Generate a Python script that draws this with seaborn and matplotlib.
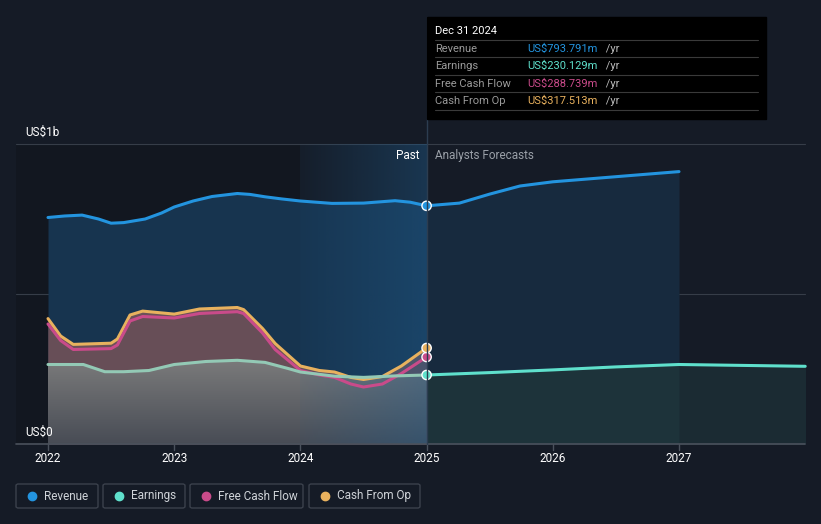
import numpy as np
import pandas as pd
import matplotlib.pyplot as plt
import seaborn as sns
from matplotlib.patches import Rectangle, FancyBboxPatch
from matplotlib.lines import Line2D

# values in US$m, x in decimal years
rev_hist_x = [2022.0, 2022.13, 2022.27, 2022.4, 2022.5, 2022.6, 2022.77, 2022.9, 2023.0, 2023.15,
              2023.3, 2023.5, 2023.6, 2023.72, 2023.85, 2024.0, 2024.25, 2024.5, 2024.75, 2024.87, 2025.0]
rev_hist_y = [755, 760, 763, 750, 736, 738, 750, 770, 790, 810,
              825, 835, 832, 824, 817, 810, 802, 803, 811, 806, 794]
rev_fc_x = [2025.0, 2025.26, 2025.5, 2025.74, 2026.0, 2026.5, 2027.0]
rev_fc_y = [794, 803, 833, 860, 874, 891, 908]

earn_hist_x = [2022.0, 2022.28, 2022.45, 2022.6, 2022.8, 2023.0, 2023.25, 2023.5, 2023.72, 2023.9,
               2024.0, 2024.27, 2024.5, 2024.75, 2025.0]
earn_hist_y = [265, 265, 241, 241, 245, 265, 275, 279, 272, 252, 240, 226, 222, 227, 230]
earn_fc_x = [2025.0, 2025.5, 2026.0, 2026.5, 2027.0, 2027.5, 2028.0]
earn_fc_y = [230, 238, 247, 257, 265, 262, 259]

fcf_x = [2022.0, 2022.1, 2022.2, 2022.5, 2022.55, 2022.65, 2022.75, 2023.0, 2023.2, 2023.5, 2023.55,
         2023.7, 2023.8, 2024.0, 2024.15, 2024.27, 2024.4, 2024.5, 2024.65, 2024.8, 2025.0]
fcf_y = [400, 345, 315, 318, 330, 410, 425, 420, 435, 441, 435,
         370, 315, 245, 230, 222, 200, 190, 200, 235, 290]
cfo_x = fcf_x
cfo_y = [418, 360, 332, 336, 350, 430, 443, 433, 450, 455, 448,
         385, 335, 260, 245, 240, 222, 215, 225, 260, 320]

years = [2022, 2023, 2024, 2025, 2026, 2027]
series_names = ["Revenue", "Earnings", "Free Cash Flow", "Cash From Op"]
tooltip_vals = ["US$793.791m", "US$230.129m", "US$288.739m", "US$317.513m"]

C_REV = "#2394df"
C_EARN = "#5fe0cc"
C_EARN_H = "#93c9b5"
C_FCF = "#c94b8a"
C_CFO = "#e8b15e"
colors = [C_REV, C_EARN, C_FCF, C_CFO]
BG = "#151b26"

sns.set_theme(style="dark")
plt.rcParams["font.family"] = ["Roboto", "DejaVu Sans"]

W, H = 821, 524
fig = plt.figure(figsize=(W / 100, H / 100), dpi=100, facecolor=BG)
ax = fig.add_axes([0, 0, 1, 1])
ax.set_facecolor(BG)

PXY = 126.2  # px per year
x0 = 2022 - 48 / PXY
x1 = 2022 + (W - 48) / PXY
ax.set_xlim(x0, x1)
ax.set_ylim(-(H - 444) / 0.3, 444 / 0.3)
ax.axis("off")


def xpx(p):
    return x0 + p / PXY


def fx(p):
    return p / W


def fy(p):
    return 1 - p / H


# darker region before 2024
ax.add_patch(Rectangle((xpx(16), 0), 2024 - xpx(16), 1000, color="#0f131a", alpha=0.45, lw=0, zorder=0))

# revenue fills
ax.fill_between(rev_hist_x, rev_hist_y, 0, color="#17344f", lw=0, zorder=1)
ax.fill_between(rev_fc_x, rev_fc_y, 0, color="#172a3e", lw=0, zorder=1)

# cash flow fills
ax.fill_between(cfo_x, cfo_y, 0, color="#6b5158", lw=0, zorder=2)
ax.fill_between(fcf_x, fcf_y, 0, color="#674e57", lw=0, zorder=2)

# earnings fills (gradient for history)
poly = ax.fill_between(earn_hist_x, earn_hist_y, 0, facecolor="none", lw=0, zorder=3)
grad = np.linspace(0, 1, 256).reshape(-1, 1)
top = np.array([0x7c, 0x7c, 0x7c]) / 255
bot = np.array([0x48, 0x4c, 0x55]) / 255
img = (top * (1 - grad) + bot * grad).reshape(256, 1, 3)
im = ax.imshow(img, extent=[2022, 2025, 0, 290], aspect="auto", zorder=3, origin="upper")
im.set_clip_path(poly.get_paths()[0], transform=ax.transData)
ax.fill_between(earn_fc_x, earn_fc_y, 0, color="#1d333a", lw=0, zorder=3)
ax.fill_between([2027, 2028], [265, 259], 0, color="#1b2b33", lw=0, zorder=3)

# past highlight band
ramp = np.linspace(0.05, 0.42, 128)
band = np.zeros((1, 128, 4))
band[..., 0] = 0x1f / 255
band[..., 1] = 0x5c / 255
band[..., 2] = 0x8c / 255
band[..., 3] = ramp
ax.imshow(band, extent=[2024, 2025, 0, 1000], aspect="auto", zorder=4)

# grid and baseline
for v in [500, 1000]:
    ax.plot([xpx(16), xpx(805)], [v, v], color="#363d48", lw=0.8, zorder=0.5)
ax.plot([xpx(16), xpx(805)], [0, 0], color="#4a515c", lw=1.2, zorder=6)
for yr in years:
    ax.plot([yr, yr], [0, -20], color="#4a515c", lw=1, zorder=6)
    ax.text(yr, -47, str(yr), color="white", fontsize=8.5, ha="center", va="center")

# lines
sns.lineplot(x=rev_hist_x, y=rev_hist_y, color=C_REV, lw=2.2, ax=ax, zorder=7)
sns.lineplot(x=rev_fc_x, y=rev_fc_y, color=C_REV, lw=2.2, ax=ax, zorder=7)
sns.lineplot(x=cfo_x, y=cfo_y, color=C_CFO, lw=2.2, ax=ax, zorder=7)
sns.lineplot(x=fcf_x, y=fcf_y, color=C_FCF, lw=2.2, ax=ax, zorder=7)
sns.lineplot(x=earn_hist_x, y=earn_hist_y, color=C_EARN_H, lw=2.2, ax=ax, zorder=7)
sns.lineplot(x=earn_fc_x, y=earn_fc_y, color=C_EARN, lw=2.2, ax=ax, zorder=7)

# end-of-history markers
ax.scatter([2025] * 4, [rev_hist_y[-1], earn_hist_y[-1], fcf_y[-1], cfo_y[-1]],
           c=[C_REV, C_EARN, C_FCF, C_CFO], s=45, edgecolors="white", linewidths=1, zorder=9)

# vertical marker line
fig.add_artist(Line2D([fx(427), fx(427)], [fy(17), fy(444)], color="#2c3d50", lw=1, zorder=5))

# axis texts
fig.text(fx(25), fy(132), "US$1b", color="white", fontsize=8.5, va="center")
fig.text(fx(25), fy(432), "US$0", color="white", fontsize=8.5, va="center")
fig.text(fx(419), fy(156), "Past", color="white", fontsize=8.5, ha="right", va="center")
fig.text(fx(435), fy(156), "Analysts Forecasts", color="#9aa0a8", fontsize=8.5, va="center")

# tooltip
fig.add_artist(Rectangle((fx(427), fy(119)), fx(766) - fx(427), fy(17) - fy(119),
                         transform=fig.transFigure, color="black", zorder=10))
fig.text(fx(435), fy(31), "Dec 31 2024", color="white", fontsize=8, va="center", zorder=11)
row_y = [49, 66, 84, 101]
for i, name in enumerate(series_names):
    fig.add_artist(Line2D([fx(435), fx(758)], [fy(row_y[i] - 9), fy(row_y[i] - 9)],
                          color="#3a3a3a", lw=0.8, zorder=11))
    fig.text(fx(435), fy(row_y[i]), name, color="#9a9a9a", fontsize=8, va="center", zorder=11)
    fig.text(fx(527), fy(row_y[i]), tooltip_vals[i], color=colors[i], fontsize=8,
             va="center", zorder=11)
    fig.text(fx(527 + 7.3 * len(tooltip_vals[i]) - 4), fy(row_y[i]), " /yr", color="#bbbbbb",
             fontsize=8, va="center", zorder=11)
fig.add_artist(Line2D([fx(435), fx(758)], [fy(110), fy(110)], color="#3a3a3a", lw=0.8, zorder=11))

# legend boxes
boxes = [(16, 98), (103, 185), (190, 303), (309, 420)]
for (a, b), name, c in zip(boxes, series_names, colors):
    fig.add_artist(FancyBboxPatch((fx(a), fy(508)), fx(b) - fx(a), fy(484) - fy(508),
                                  boxstyle="round,pad=0,rounding_size=0.003",
                                  transform=fig.transFigure, facecolor=BG,
                                  edgecolor="#3b414c", lw=1))
    fig.add_artist(Line2D([fx(a + 16)], [fy(496)], marker="o", ms=6, color=c, mec=c, lw=0))
    fig.text(fx(a + 28), fy(496), name, color="#cfd3d8", fontsize=8.5, va="center")

fig.savefig("out.png", dpi=100, facecolor=BG)
